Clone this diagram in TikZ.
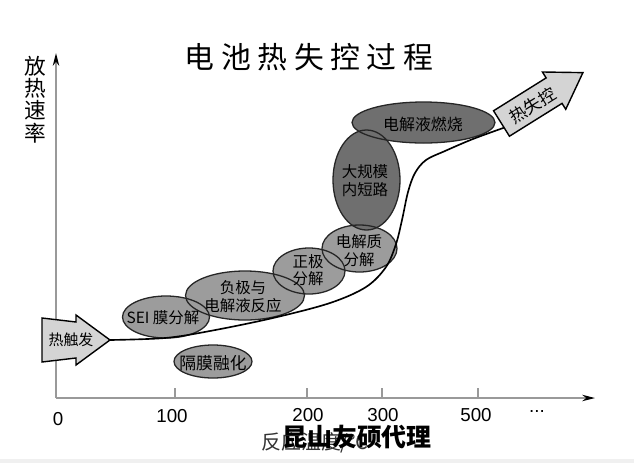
\documentclass[tikz,border=0pt]{standalone}
\usepackage{fontspec}
\setmainfont{Liberation Sans}
\newfontfamily\cjk{Noto Sans CJK SC}
\usetikzlibrary{arrows.meta}
\definecolor{lightell}{HTML}{9C9C9C}
\definecolor{darkell}{HTML}{6F6F6F}
\definecolor{arrowfill}{HTML}{D4D4D4}
\definecolor{axisgray}{HTML}{999999}
\definecolor{bandgray}{HTML}{F0F0F0}
\definecolor{labelgray}{HTML}{333333}
\newcommand{\ttlsp}{\kern0.22em}
\begin{document}
\begin{tikzpicture}[x=0.03cm,y=-0.03cm,
  axisline/.style={draw=axisgray,line width=1.1pt},
  axistip/.style={-{Stealth[length=11pt,width=5.5pt,color=black]}},
  ellline/.style={draw=black!85,line width=1.1pt},
  curveline/.style={draw=black,line width=1.4pt},
  blockarrow/.style={fill=arrowfill,draw=black,line width=1.2pt,line join=miter},
  elltext/.style={font=\cjk\fontsize{13.2}{15}\selectfont,align=center,inner sep=0pt},
  ticklabel/.style={font=\fontsize{16}{18}\selectfont,inner sep=0pt}]
\useasboundingbox (0,0) rectangle (634,463);
\fill[white] (0,0) rectangle (634,463);
\fill[bandgray] (0,459) rectangle (634,463);

% title and axis label
\node[font=\cjk\fontsize{25.5}{30}\selectfont,inner sep=0pt] (title) at (309,57)
  {电\ttlsp 池\ttlsp 热\ttlsp 失\ttlsp 控\ttlsp 过\ttlsp 程};
\node[font=\cjk\fontsize{18.5}{19}\selectfont,align=center,inner sep=0pt] (ylab) at (35,99.5)
  {放\\热\\速\\率};

% axes
\coordinate (origin) at (56,398);
\coordinate (ytop) at (56,53);
\coordinate (xend) at (595,398);
\draw[axisline,axistip] (origin) -- (ytop);
\draw[axisline,axistip] (origin) -- (xend);
\foreach \tx in {175,307,382,478}
  \draw[axisline] (\tx,388) -- (\tx,398);

% tick labels
\node[ticklabel] (t0) at (58,419) {0};
\node[ticklabel] (t100) at (172,416) {100};
\node[ticklabel] (t200) at (308,415) {200};
\node[ticklabel] (t300) at (383,415) {300};
\node[ticklabel] (t500) at (476,415) {500};
\node[ticklabel] (tdots) at (537,411) {...};
\node[font=\cjk\fontsize{17}{20}\selectfont,text=labelgray,inner sep=0pt] (xlab) at (315,443) {反应温度/℃};
\node[font=\cjk\bfseries\fontsize{21.3}{24}\selectfont,inner sep=0pt] (wmark) at (357,437) {昆山友硕代理};

% ellipse fills
\fill[lightell] (166,317) ellipse [x radius=43.5, y radius=21];
\fill[lightell] (245,295.5) ellipse [x radius=59.5, y radius=24.5];
\fill[lightell] (309,271) ellipse [x radius=36, y radius=23];
\fill[lightell] (359.5,248.5) ellipse [x radius=37.5, y radius=23.5];
\fill[lightell] (213,361.5) ellipse [x radius=39, y radius=16.5];
\fill[darkell] (366.5,180) ellipse [x radius=33.5, y radius=50];
\fill[darkell] (423.5,122.5) ellipse [x radius=71.5, y radius=20.5];
% ellipse outlines
\draw[ellline] (166,317) ellipse [x radius=43.5, y radius=21];
\draw[ellline] (245,295.5) ellipse [x radius=59.5, y radius=24.5];
\draw[ellline] (309,271) ellipse [x radius=36, y radius=23];
\draw[ellline] (359.5,248.5) ellipse [x radius=37.5, y radius=23.5];
\draw[ellline] (213,361.5) ellipse [x radius=39, y radius=16.5];
\draw[ellline] (366.5,180) ellipse [x radius=33.5, y radius=50];
\draw[ellline] (423.5,122.5) ellipse [x radius=71.5, y radius=20.5];

% curve
\coordinate (trigtip) at (110,340);
\coordinate (runtail) at (506,127);
\draw[curveline] plot[smooth,tension=0.55] coordinates {(trigtip) (165,338) (210,331) (273,318) (330,303) (366,287) (386,267) (396,244) (402,220) (408,192) (415,173) (426,160) (445,151) (473,139) (runtail)};

% trigger arrow
\draw[blockarrow] (42,318) -- (76,322) -- (76,315) -- (110,340) -- (76,365) -- (76,358) -- (42,362) -- cycle;
\node[font=\cjk\fontsize{12.8}{15}\selectfont,inner sep=0pt] (trig) at (71,340) {热触发};

% runaway arrow
\begin{scope}[shift={(501.5,123.5)},rotate=32]
  \draw[blockarrow] (0,-15) -- (62,-15) -- (62,-22) -- (96,0) -- (62,22) -- (62,15) -- (0,15) -- cycle;
  \node[font=\cjk\fontsize{14.5}{16}\selectfont,rotate=32,inner sep=0pt] (runaway) at (36,1) {热失控};
\end{scope}

% ellipse labels
\node[elltext] (sei) at (163,318) {SEI 膜分解};
\node[elltext] (neg) at (243,296.5) {负极与\\电解液反应};
\node[elltext] (pos) at (308,270) {正极\\分解};
\node[elltext] (elec) at (359,250.5) {电解质\\分解};
\node[elltext,font=\cjk\fontsize{14.3}{16}\selectfont] (sep) at (213,363) {隔膜融化};
\node[elltext,font=\cjk\fontsize{13.2}{15.4}\selectfont] (short) at (365,181) {大规模\\内短路};
\node[elltext,font=\cjk\fontsize{13.6}{16}\selectfont] (burn) at (423,124) {电解液燃烧};
\end{tikzpicture}
\end{document}
